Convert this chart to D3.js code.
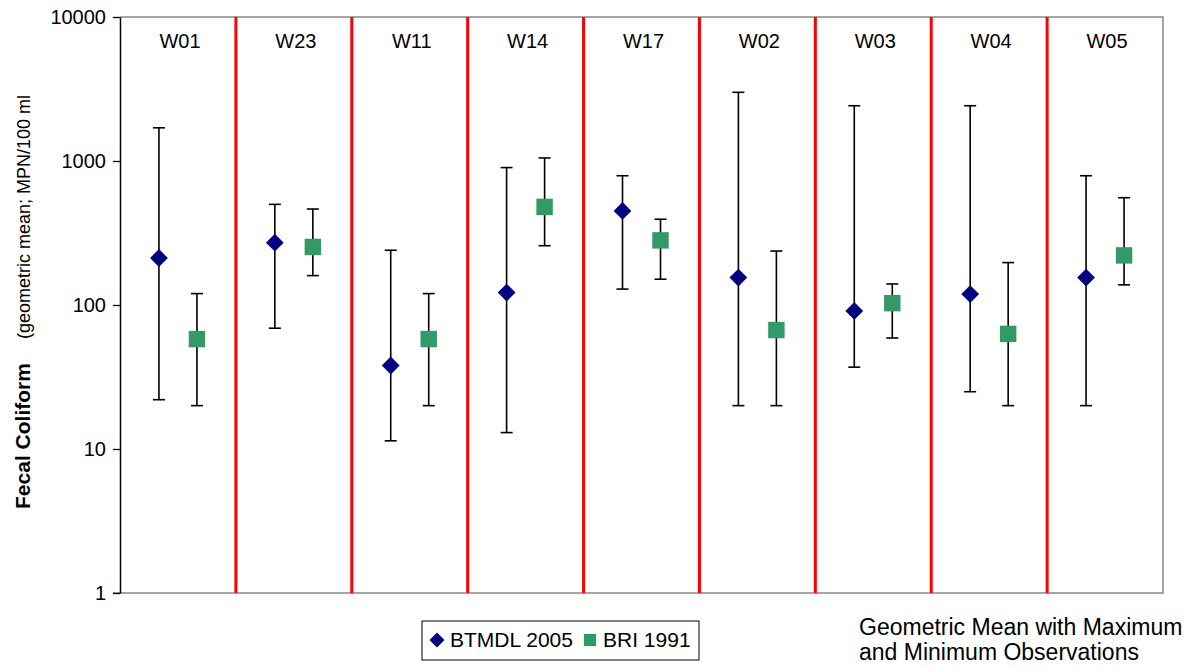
<!DOCTYPE html>
<html>
<head>
<meta charset="utf-8">
<script src="https://cdn.jsdelivr.net/npm/d3@7"></script>
<style>
  body { margin: 0; background: #fff; }
  text { font-family: "Liberation Sans", Arial, sans-serif; fill: #000; }
</style>
</head>
<body>
<script>
// site order as plotted
const sites = ['W01', 'W23', 'W11', 'W14', 'W17', 'W02', 'W03', 'W04', 'W05']
// BTMDL 2005 geometric mean, max, min
const btmdlMean = [212, 271, 38, 122, 450, 155, 91, 119, 155]
const btmdlMax = [1700, 500, 240, 900, 790, 3000, 2420, 2420, 790]
const btmdlMin = [22, 69, 11.4, 13, 129, 20, 37, 25, 20]
// BRI 1991 geometric mean, max, min
const briMean = [58, 253, 58, 480, 281, 67, 103, 63, 221]
const briMax = [120, 464, 120, 1050, 394, 237, 140, 197, 556]
const briMin = [20, 160, 20, 258, 151, 20, 59, 20, 138]
const yTicks = [1, 10, 100, 1000, 10000]
const seriesNames = ['BTMDL 2005', 'BRI 1991']

const W = 1198, H = 669
const margin = {top: 17, right: 35, bottom: 76, left: 120}
const width = W - margin.left - margin.right
const height = H - margin.top - margin.bottom

const svg = d3.select('body').append('svg')
    .attr('width', W)
    .attr('height', H)

const g = svg.append('g')
    .attr('transform', 'translate(' + margin.left + ',' + margin.top + ')')

const x = d3.scaleBand()
    .domain(sites)
    .range([0, width])
    .padding(0)
const inner = d3.scalePoint()
    .domain(seriesNames)
    .range([-19, 19])
const y = d3.scaleLog()
    .domain([1, 10000])
    .range([height, 0])

// diamond = square turned 45 degrees (excel style)
const series = [
  {name: seriesNames[0], mean: btmdlMean, max: btmdlMax, min: btmdlMin, color: '#000080', rot: 45, size: 158, legSize: 112},
  {name: seriesNames[1], mean: briMean, max: briMax, min: briMin, color: '#339966', rot: 0, size: 270, legSize: 150}
]

// plot border (grey) top / right / bottom
g.append('path')
    .attr('d', 'M-7,' + height + 'H' + width + 'V0H0')
    .attr('fill', 'none')
    .attr('stroke', '#888')
    .attr('stroke-width', 1.5)

// red separators between sites
g.selectAll('.sep')
  .data(sites.slice(1))
  .enter().append('line')
    .attr('class', 'sep')
    .attr('x1', d => x(d)).attr('x2', d => x(d))
    .attr('y1', 0).attr('y2', height)
    .attr('stroke', '#ff0000')
    .attr('stroke-width', 3)

// y axis
const yAxis = g.append('g')
    .call(d3.axisLeft(y).tickValues(yTicks).tickFormat(d3.format('d')).tickSize(7).tickSizeOuter(0))
yAxis.select('.domain').attr('stroke', '#000').attr('stroke-width', 1.5)
yAxis.selectAll('.tick line').attr('stroke', '#000').attr('stroke-width', 1.3)
yAxis.selectAll('.tick text')
    .attr('x', -14)
    .style('font-size', '20px')
    .style('font-family', '"Liberation Sans", Arial, sans-serif')

// site labels
g.selectAll('.site')
  .data(sites)
  .enter().append('text')
    .attr('class', 'site')
    .attr('x', d => x(d) + x.bandwidth() / 2 + 2)
    .attr('y', 31)
    .attr('text-anchor', 'middle')
    .style('font-size', '20px')
    .text(d => d)

// error bars and markers
series.forEach(function (s) {
  const grp = g.append('g')
  const rows = sites.map((d, i) => ({site: d, mean: s.mean[i], max: s.max[i], min: s.min[i]}))
  const cx = d => x(d.site) + x.bandwidth() / 2 + inner(s.name)
  grp.selectAll('.bar')
    .data(rows)
    .enter().append('line')
      .attr('x1', cx).attr('x2', cx)
      .attr('y1', d => y(d.max)).attr('y2', d => y(d.min))
      .attr('stroke', '#000').attr('stroke-width', 1.6)
  ;['max', 'min'].forEach(function (k) {
    grp.selectAll('.cap-' + k)
      .data(rows)
      .enter().append('line')
        .attr('x1', d => cx(d) - 6).attr('x2', d => cx(d) + 6)
        .attr('y1', d => y(d[k])).attr('y2', d => y(d[k]))
        .attr('stroke', '#000').attr('stroke-width', 1.6)
  })
  grp.selectAll('.mark')
    .data(rows)
    .enter().append('path')
      .attr('d', d3.symbol().type(d3.symbolSquare).size(s.size))
      .attr('transform', d => 'translate(' + cx(d) + ',' + y(d.mean) + ') rotate(' + s.rot + ')')
      .attr('fill', s.color)
})

// y axis title
const yTitle = svg.append('text')
    .attr('transform', 'translate(30,' + (margin.top + height / 2 - 3) + ') rotate(-90)')
    .attr('text-anchor', 'middle')
yTitle.append('tspan')
    .style('font-size', '21px')
    .style('font-weight', 'bold')
    .text('Fecal Coliform')
yTitle.append('tspan')
    .attr('dx', 24)
    .style('font-size', '18px')
    .text('(geometric mean; MPN/100 ml')

// legend
const legend = svg.append('g').attr('transform', 'translate(422,621)')
legend.append('rect')
    .attr('width', 277).attr('height', 39)
    .attr('fill', '#fff').attr('stroke', '#000').attr('stroke-width', 1)
const legX = [15, 168]
series.forEach(function (s, i) {
  legend.append('path')
      .attr('d', d3.symbol().type(d3.symbolSquare).size(s.legSize))
      .attr('transform', 'translate(' + legX[i] + ',19) rotate(' + s.rot + ')')
      .attr('fill', s.color)
  legend.append('text')
      .attr('x', legX[i] + 13)
      .attr('y', 26)
      .style('font-size', '21px')
      .text(s.name)
})

// note
const note = svg.append('text')
    .attr('x', 859)
    .attr('y', 635)
    .style('font-size', '23px')
note.append('tspan').attr('x', 859).text('Geometric Mean with Maximum')
note.append('tspan').attr('x', 859).attr('dy', 25).text('and Minimum Observations')
</script>
</body>
</html>
